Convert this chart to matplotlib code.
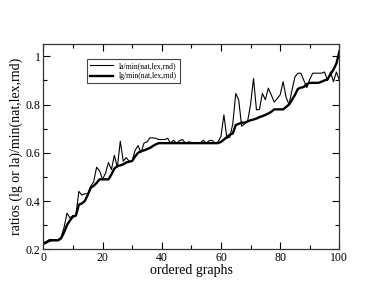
import matplotlib
matplotlib.use("Agg")
import matplotlib.pyplot as plt
import numpy as np
from matplotlib.ticker import MultipleLocator

# ratio values, one per ordered graph (0..100)
la_vals = [0.228, 0.232, 0.24, 0.24, 0.24, 0.24, 0.25, 0.29, 0.35, 0.33,
           0.34, 0.34, 0.44, 0.425, 0.43, 0.43, 0.46, 0.48, 0.54, 0.525,
           0.49, 0.515, 0.56, 0.53, 0.59, 0.54, 0.648, 0.565, 0.58, 0.565,
           0.567, 0.61, 0.63, 0.60, 0.64, 0.645, 0.662, 0.662, 0.66, 0.655,
           0.655, 0.655, 0.66, 0.64, 0.652, 0.64, 0.65, 0.655, 0.64, 0.645,
           0.643, 0.64, 0.64, 0.64, 0.652, 0.64, 0.65, 0.652, 0.64, 0.645,
           0.668, 0.757, 0.66, 0.665, 0.72, 0.846, 0.819, 0.71, 0.72, 0.73,
           0.80, 0.908, 0.778, 0.78, 0.846, 0.82, 0.868, 0.84, 0.81, 0.825,
           0.84, 0.895, 0.83, 0.80, 0.86, 0.915, 0.93, 0.93, 0.90, 0.87,
           0.905, 0.93, 0.93, 0.93, 0.93, 0.935, 0.90, 0.935, 0.895, 0.935,
           0.90]
lg_vals = [0.222, 0.228, 0.235, 0.237, 0.237, 0.237, 0.245, 0.27, 0.30, 0.32,
           0.335, 0.34, 0.385, 0.39, 0.40, 0.425, 0.455, 0.463, 0.475, 0.49,
           0.49, 0.49, 0.49, 0.51, 0.535, 0.545, 0.548, 0.552, 0.56, 0.563,
           0.566, 0.585, 0.60, 0.607, 0.61, 0.615, 0.62, 0.628, 0.635, 0.64,
           0.64, 0.64, 0.64, 0.64, 0.64, 0.64, 0.64, 0.64, 0.64, 0.64,
           0.64, 0.64, 0.64, 0.64, 0.64, 0.64, 0.64, 0.64, 0.64, 0.64,
           0.645, 0.655, 0.665, 0.675, 0.68, 0.715, 0.72, 0.725, 0.725, 0.73,
           0.735, 0.738, 0.742, 0.748, 0.752, 0.757, 0.763, 0.77, 0.78, 0.78,
           0.78, 0.78, 0.79, 0.80, 0.82, 0.84, 0.865, 0.87, 0.873, 0.885,
           0.89, 0.89, 0.89, 0.89, 0.895, 0.90, 0.905, 0.925, 0.945, 0.97,
           1.02]
x = np.arange(len(la_vals))

plt.rcParams["font.family"] = ["Liberation Serif", "DejaVu Serif"]

fig = plt.figure(figsize=(3.82, 2.95), dpi=100)
ax = fig.add_axes([0.1134, 0.155, 0.775, 0.695])

ax.plot(x, la_vals, color="black", linewidth=0.8, label="la/min(nat,lex,rnd)")
ax.plot(x, lg_vals, color="black", linewidth=1.7, label="lg/min(nat,lex,rnd)")

ax.set_xlim(0, 100)
ax.set_ylim(0.2, 1.05)
ax.xaxis.set_major_locator(MultipleLocator(20))
ax.xaxis.set_minor_locator(MultipleLocator(10))
ax.yaxis.set_minor_locator(MultipleLocator(0.1))
ax.set_yticks([0.2, 0.4, 0.6, 0.8, 1.0])
ax.set_yticklabels(["0.2", "0.4", "0.6", "0.8", "1"])
ax.tick_params(which="both", direction="in", top=True, right=True,
               labelsize=8.5, pad=2)
ax.tick_params(which="major", length=5, width=0.8)
ax.tick_params(which="minor", length=3, width=0.8)
for s in ax.spines.values():
    s.set_linewidth(0.9)
    s.set_color("#333333")

ax.set_xlabel("ordered graphs", fontsize=10, labelpad=0)
ax.set_ylabel("ratios (lg or la)/min(nat,lex,rnd)", fontsize=10, labelpad=2)

leg = ax.legend(loc="upper left", bbox_to_anchor=(0.149, 0.927),
                borderaxespad=0, fontsize=5.5, fancybox=False,
                handlelength=3, framealpha=1, edgecolor="#444444",
                labelspacing=0.3, borderpad=0.35)
leg.get_frame().set_linewidth(0.8)

fig.savefig("out.png", dpi=100)
